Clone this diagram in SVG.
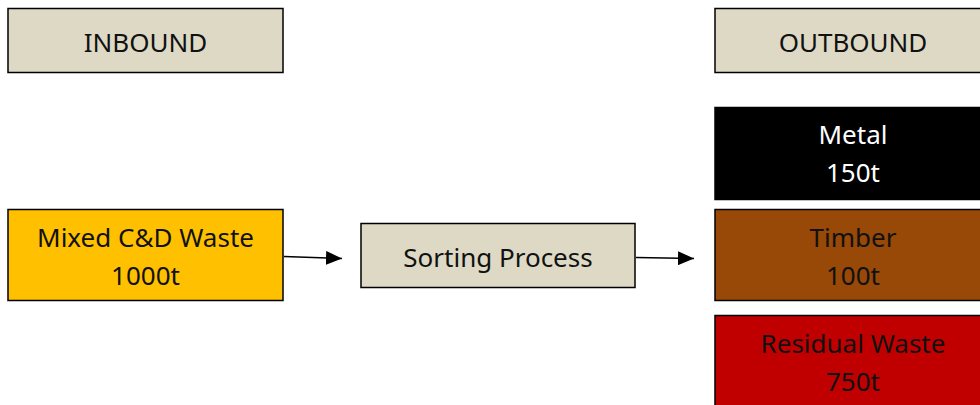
<svg xmlns="http://www.w3.org/2000/svg" width="980" height="405" viewBox="0 0 980 405">
  <style>
    .box { stroke: #000; stroke-width: 1.5; }
    .label { font-family: "Noto Sans", "Open Sans", sans-serif; font-size: 26px; text-anchor: middle; fill: #111; }
    .white { fill: #fff; }
    .edge { stroke: #000; stroke-width: 1.5; fill: none; }
  </style>
  <defs>
    <marker id="head" viewBox="0 0 16 14" markerWidth="16" markerHeight="14" refX="16" refY="7" orient="auto" markerUnits="userSpaceOnUse">
      <path d="M0,0 L16,7 L0,14 Z" fill="#000"/>
    </marker>
  </defs>

  <g id="inbound">
    <rect class="box" x="8" y="8.5" width="275" height="64" fill="#DDD9C4"/>
    <text class="label" x="145.5" y="52">INBOUND</text>
  </g>

  <g id="outbound">
    <rect class="box" x="715" y="8.5" width="280" height="64" fill="#DDD9C4"/>
    <text class="label" x="853" y="52">OUTBOUND</text>
  </g>

  <g id="mixed-waste">
    <rect class="box" x="8" y="209.5" width="275" height="91" fill="#FFC000"/>
    <text class="label" x="145.5" y="247">Mixed C&amp;D Waste</text>
    <text class="label" x="145.5" y="285">1000t</text>
  </g>

  <g id="sorting">
    <rect class="box" x="361" y="223.5" width="274" height="64" fill="#DDD9C4"/>
    <text class="label" x="498" y="267">Sorting Process</text>
  </g>

  <g id="metal">
    <rect class="box" x="715" y="107.5" width="280" height="92" fill="#000"/>
    <text class="label white" x="853" y="144">Metal</text>
    <text class="label white" x="853" y="182">150t</text>
  </g>

  <g id="timber">
    <rect class="box" x="715" y="209.5" width="280" height="91" fill="#984807"/>
    <text class="label" x="853" y="247">Timber</text>
    <text class="label" x="853" y="285">100t</text>
  </g>

  <g id="residual">
    <rect class="box" x="715" y="315.5" width="280" height="100" fill="#C00000"/>
    <text class="label" x="853" y="353">Residual Waste</text>
    <text class="label" x="853" y="391">750t</text>
  </g>

  <g id="connectors">
    <line class="edge" x1="284" y1="256.5" x2="342" y2="258.5" marker-end="url(#head)"/>
    <line class="edge" x1="636" y1="257.5" x2="694" y2="258.5" marker-end="url(#head)"/>
  </g>
</svg>
